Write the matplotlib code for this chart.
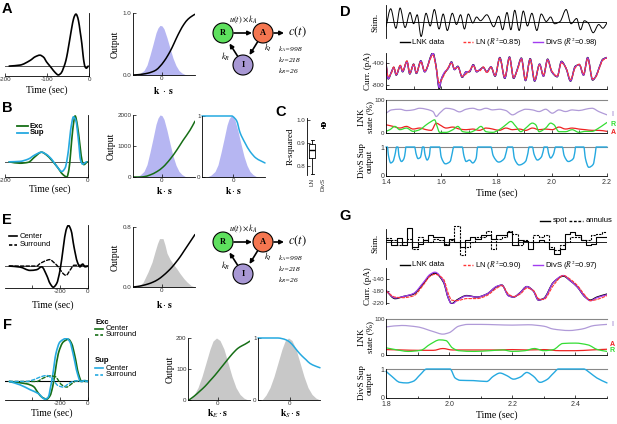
import numpy as np
import matplotlib
matplotlib.use("Agg")
import matplotlib.pyplot as plt
from matplotlib.patches import Circle, PathPatch
from matplotlib.path import Path

plt.rcParams['font.family'] = ['Liberation Sans', 'DejaVu Sans']
plt.rcParams['mathtext.fontset'] = 'stix'
plt.rcParams['axes.linewidth'] = 0.6
SERIF = ['Liberation Serif', 'DejaVu Serif']

# ---------------- data ----------------
# A: LN filter
filt_a_t = [-190, -164, -140, -128, -117, -108, -101, -95, -89, -81, -73, -66, -61, -57, -53,
            -49, -45, -41, -37, -34, -31, -28, -25, -21, -17, -14, -12, -9, -6, -2]
filt_a_v = [0, 0.02, 0.11, 0.18, 0.21, 0.17, 0.08, 0.02, -0.04, -0.12, -0.17, -0.13, -0.04, 0.05, 0.18,
            0.36, 0.55, 0.74, 0.90, 0.97, 1.0, 0.96, 0.87, 0.66, 0.43, 0.2, 0.08, -0.02, -0.04, 0]
# A/B: static nonlinearity + stimulus distribution (normalised)
nl_x = [-2.9, -2.4, -1.9, -1.4, -1.0, -0.6, -0.2, 0.2, 0.6, 1.0, 1.4, 1.8, 2.2, 2.6, 3.0, 3.3]
nl_a = [0.0, 0.005, 0.015, 0.03, 0.05, 0.08, 0.14, 0.22, 0.32, 0.44, 0.58, 0.71, 0.82, 0.9, 0.95, 0.98]
hist_x = [-2.6, -2.2, -1.8, -1.5, -1.2, -0.9, -0.6, -0.4, -0.2, 0.0, 0.2, 0.5, 0.8, 1.1, 1.4, 1.7, 2.0, 2.3, 2.6]
hist_v = [0, 0.03, 0.09, 0.2, 0.4, 0.62, 0.85, 0.95, 1.0, 0.99, 0.93, 0.75, 0.54, 0.34, 0.19, 0.09, 0.04, 0.01, 0]

# B: Exc / Sup filters
b_exc_t = [-190, -164, -144, -128, -112, -100, -88, -75, -60, -51, -46, -42, -37, -31, -26, -19, -14, -10, -2]
b_exc_v = [0, -0.03, -0.01, 0.11, 0.21, 0.15, 0.04, -0.10, -0.28, -0.33, -0.17, 0.18, 0.68, 1.0, 0.82, 0.33, 0.01, -0.06, 0]
b_sup_t = [-190, -164, -144, -128, -112, -100, -88, -75, -63, -55, -47, -42, -35, -29, -23, -18, -13, -4]
b_sup_v = [0, 0.01, 0.06, 0.15, 0.21, 0.16, 0.06, -0.10, -0.21, -0.13, 0.26, 0.68, 0.98, 0.89, 0.47, 0.04, -0.05, 0]
b1_x = [-2.9, -2.2, -1.8, -1.2, -0.5, 0.1, 0.8, 1.5, 2.1, 2.8, 3.3]
b1_v = [0, 0, 10, 65, 175, 320, 570, 880, 1180, 1510, 1800]
b2_x = [-3.1, -0.1, 0.0, 0.37, 0.7, 1.2, 1.7, 2.3, 3.2]
b2_v = [1.0, 1.0, 0.99, 0.92, 0.73, 0.56, 0.42, 0.31, 0.23]

# C: R-squared box summary
c_labels = ['LN', 'DivS']
c_med = [0.870, 0.981]
c_q1 = [0.835, 0.976]
c_q3 = [0.895, 0.988]
c_lo = [0.765, 0.968]
c_hi = [0.915, 0.994]

# D: white-noise example
d_stim = [(1.400, -0.35), (1.417, 0.85), (1.436, -0.45), (1.451, 0.9), (1.469, -0.4), (1.487, 0.6),
          (1.500, -0.15), (1.513, 0.45), (1.527, -1.0), (1.545, 0.55), (1.560, -0.3), (1.575, 0.8),
          (1.592, -0.5), (1.607, 0.5), (1.622, -0.6), (1.640, 0.55), (1.655, -0.2), (1.670, 0.45),
          (1.684, -0.5), (1.698, 0.5), (1.714, -0.1), (1.728, 0.3), (1.742, 0.05), (1.765, 0.45),
          (1.790, -0.35), (1.808, 0.35), (1.822, -0.55), (1.838, 0.6), (1.852, -0.55), (1.866, 0.75),
          (1.882, -0.6), (1.897, 0.7), (1.912, -0.3), (1.928, 0.55), (1.946, -0.6), (1.962, 0.5),
          (1.980, 0.0), (1.996, 0.3), (2.010, -0.15), (2.030, 0.0), (2.052, 0.8), (2.070, -0.15),
          (2.090, 0.2), (2.104, -0.55), (2.118, 0.05), (2.132, -0.1), (2.150, -0.75), (2.170, -0.2),
          (2.185, -0.45), (2.200, -0.1)]
d_curr_t = [1.400, 1.408, 1.420, 1.428, 1.437, 1.452, 1.460, 1.476, 1.486, 1.500, 1.510, 1.526, 1.540,
            1.570, 1.580, 1.593, 1.600, 1.612, 1.625, 1.637, 1.648, 1.660, 1.676, 1.690, 1.702, 1.716,
            1.728, 1.740, 1.752, 1.765, 1.780, 1.795, 1.812, 1.830, 1.847, 1.862, 1.875, 1.890, 1.905,
            1.922, 1.938, 1.956, 1.970, 1.985, 2.000, 2.020, 2.035, 2.052, 2.068, 2.085, 2.100, 2.115,
            2.130, 2.148, 2.160, 2.172, 2.185, 2.200]
d_lnk = [-400, -690, -560, -480, -620, -450, -560, -370, -600, -420, -590, -360, -560,
         -215, -420, -870, -700, -580, -500, -380, -520, -460, -660, -560, -560, -430,
         -560, -520, -480, -560, -470, -640, -300, -680, -290, -680, -520, -310, -720,
         -320, -730, -420, -640, -330, -560, -650, -370, -500, -730, -460, -430, -620,
         -300, -710, -640, -480, -330, -300]
d_ln = [-420, -650, -580, -470, -600, -440, -540, -360, -580, -430, -570, -380, -540,
        -260, -440, -760, -720, -600, -480, -400, -500, -480, -640, -600, -540, -450,
        -540, -540, -470, -580, -480, -620, -320, -650, -310, -660, -540, -330, -700,
        -340, -700, -440, -620, -350, -540, -640, -400, -490, -700, -490, -420, -600,
        -330, -690, -650, -500, -350, -310]
d_divs = [-405, -685, -560, -485, -615, -450, -555, -375, -595, -425, -585, -365, -560,
          -225, -430, -850, -700, -565, -500, -385, -520, -465, -655, -560, -555, -435,
          -560, -520, -485, -560, -470, -635, -305, -675, -295, -675, -520, -315, -715,
          -325, -725, -420, -640, -335, -560, -645, -375, -500, -725, -465, -430, -620,
          -305, -705, -640, -480, -335, -300]
d_state_i = [(1.400, 60), (1.420, 70), (1.450, 72), (1.474, 68), (1.498, 70), (1.522, 75), (1.546, 72),
             (1.570, 65), (1.582, 50), (1.594, 60), (1.618, 75), (1.642, 72), (1.666, 64), (1.690, 72),
             (1.714, 75), (1.738, 70), (1.762, 75), (1.786, 70), (1.810, 72), (1.834, 68), (1.858, 55),
             (1.882, 65), (1.906, 72), (1.930, 70), (1.954, 65), (1.978, 72), (2.002, 60), (2.026, 70),
             (2.050, 65), (2.074, 70), (2.098, 68), (2.122, 72), (2.146, 75), (2.170, 65), (2.200, 55)]
d_state_r = [(1.400, 5), (1.414, 10), (1.432, 20), (1.450, 10), (1.474, 15), (1.498, 5), (1.522, 10),
             (1.546, 25), (1.564, 35), (1.576, 40), (1.585, 20), (1.594, 2), (1.618, 2), (1.642, 10),
             (1.660, 20), (1.678, 4), (1.702, 2), (1.726, 10), (1.744, 20), (1.762, 4), (1.786, 2),
             (1.810, 10), (1.834, 25), (1.852, 35), (1.870, 20), (1.888, 4), (1.906, 15), (1.930, 30),
             (1.942, 25), (1.954, 4), (1.978, 15), (1.996, 30), (2.008, 25), (2.026, 4), (2.050, 4),
             (2.074, 10), (2.098, 2), (2.122, 5), (2.146, 5), (2.170, 15), (2.188, 25), (2.200, 32)]
d_state_a = [(1.400, 25), (1.426, 20), (1.450, 15), (1.474, 20), (1.498, 12), (1.522, 15), (1.546, 10),
             (1.564, 8), (1.582, 30), (1.594, 25), (1.618, 15), (1.642, 18), (1.666, 12), (1.690, 10),
             (1.714, 12), (1.738, 8), (1.762, 15), (1.786, 12), (1.810, 8), (1.834, 15), (1.858, 10),
             (1.882, 12), (1.906, 8), (1.930, 15), (1.954, 10), (1.978, 12), (2.002, 10), (2.026, 18),
             (2.050, 12), (2.074, 15), (2.098, 12), (2.122, 10), (2.146, 8), (2.170, 8), (2.200, 5)]
d_sup = [(1.400, 1.0), (1.405, 1.0), (1.409, 0.7), (1.417, 0.45), (1.425, 0.5), (1.434, 0.8), (1.438, 1.0),
         (1.443, 1.0), (1.447, 0.7), (1.456, 0.5), (1.465, 0.6), (1.470, 0.85), (1.472, 1.0),
         (1.504, 1.0), (1.508, 0.8), (1.516, 0.6), (1.525, 0.65), (1.530, 0.9), (1.532, 1.0),
         (1.537, 1.0), (1.541, 0.75), (1.549, 0.55), (1.557, 0.7), (1.561, 1.0),
         (1.594, 1.0), (1.600, 0.65), (1.615, 0.42), (1.632, 0.5), (1.640, 0.8), (1.645, 1.0),
         (1.676, 1.0), (1.682, 0.7), (1.690, 0.5), (1.702, 0.55), (1.714, 0.45), (1.726, 0.6), (1.732, 1.0),
         (1.780, 1.0), (1.788, 0.7), (1.808, 0.48), (1.828, 0.6), (1.836, 0.85), (1.840, 1.0),
         (1.858, 1.0), (1.865, 0.6), (1.882, 0.38), (1.905, 0.5), (1.914, 0.8), (1.918, 1.0),
         (1.930, 1.0), (1.936, 0.75), (1.948, 0.55), (1.962, 0.65), (1.970, 0.9), (1.972, 1.0),
         (1.984, 1.0), (1.988, 0.8), (1.996, 0.62), (2.006, 0.75), (2.014, 1.0),
         (2.038, 1.0), (2.045, 0.7), (2.060, 0.5), (2.078, 0.6), (2.084, 0.85), (2.086, 1.0),
         (2.116, 1.0), (2.122, 0.6), (2.134, 0.3), (2.150, 0.4), (2.158, 0.8), (2.161, 1.0), (2.200, 1.0)]

# E: center / surround filters
e_cen_t = [-562, -486, -414, -367, -331, -295, -271, -248, -224, -200, -176, -157, -140, -121, -100, -76, -57, -38, -21, 0]
e_cen_v = [0, -0.025, -0.107, -0.09, -0.02, -0.23, -0.43, -0.52, -0.43, -0.107, 0.47, 0.88, 1.0, 0.88, 0.47, 0.1, -0.02, 0.05, -0.02, 0]
e_sur_t = [-562, -367, -343, -295, -271, -248, -212, -176, -157, -128, -100, -57, -21, 0]
e_sur_v = [0, 0, 0.06, 0.14, 0.16, 0.1, -0.02, -0.19, -0.23, -0.1, 0.02, 0.02, 0.0, 0]
e_nl_x = [-2.9, -2.4, -1.9, -1.4, -0.9, -0.4, 0.1, 0.6, 1.0, 1.4, 1.8, 2.2, 2.6, 3.0, 3.3]
e_nl_v = [0.0, 0.008, 0.022, 0.04, 0.065, 0.1, 0.15, 0.21, 0.265, 0.33, 0.4, 0.48, 0.56, 0.64, 0.7]
e_hist_x = [-2.4, -1.9, -1.4, -1.0, -0.7, -0.45, -0.25, 0.1, 0.3, 0.5, 0.8, 1.1, 1.5, 1.8, 2.2, 2.5, 2.9, 3.3]
e_hist_v = [0.0, 0.06, 0.2, 0.33, 0.47, 0.58, 0.645, 0.645, 0.56, 0.45, 0.37, 0.31, 0.24, 0.18, 0.11, 0.067, 0.02, 0.0]

# F: Exc / Sup center-surround filters and nonlinearities
f_exc_c_t = [-562, -438, -390, -355, -331, -295, -271, -252, -236, -212, -176, -140, -117, -93, -69, -45, -21, 0]
f_exc_c_v = [0, -0.054, -0.115, -0.27, -0.36, -0.41, -0.33, -0.115, 0.19, 0.65, 0.92, 0.98, 0.88, 0.58, 0.19, 0, 0.02, 0]
f_sup_c_t = [-562, -486, -414, -355, -307, -283, -271, -252, -229, -200, -152, -129, -105, -76, -53, -29, 0]
f_sup_c_v = [0, -0.077, -0.19, -0.28, -0.41, -0.36, -0.19, 0.15, 0.65, 0.92, 1.0, 0.92, 0.62, 0.19, 0, 0.02, 0]
f_exc_s_t = [-562, -367, -319, -271, -236, -188, -152, -117, -81, -33, 0]
f_exc_s_v = [0, 0, 0.08, 0.13, 0.115, -0.077, -0.13, -0.054, 0.015, 0, 0]
f_sup_s_t = [-562, -440, -390, -331, -295, -260, -212, -176, -140, -93, -33, 0]
f_sup_s_v = [0, 0, 0.04, 0.115, 0.14, 0.077, -0.1, -0.13, -0.054, 0.015, 0, 0]
f_hist_x = [-2.8, -2.4, -2.0, -1.6, -1.2, -0.8, -0.5, -0.15, 0.2, 0.6, 1.0, 1.4, 1.8, 2.2, 2.6, 3.0]
f_hist_v = [0.0, 0.08, 0.2, 0.38, 0.6, 0.82, 0.95, 1.0, 0.96, 0.82, 0.6, 0.38, 0.2, 0.09, 0.03, 0.0]
f_exc_x = [-2.9, -2.4, -1.8, -1.3, -0.8, -0.3, 0.2, 0.7, 1.2, 1.7, 2.0, 2.4, 2.7, 3.2]
f_exc_v = [0, 12, 29, 44, 62, 80, 100, 120, 140, 158, 167, 175, 180, 190]
f_sup_x = [-3.2, -1.2, -0.8, -0.4, 0.0, 0.4, 0.8, 1.2, 1.6, 2.0, 2.5, 3.0]
f_sup_v = [1.0, 1.0, 0.99, 0.97, 0.93, 0.86, 0.78, 0.71, 0.65, 0.59, 0.55, 0.52]

# G: spot / annulus example (one value per 1/60 s frame)
g_frame = 1 / 60
g_spot = [0.12, -0.25, 0.3, -0.25, 1.05, -0.4, -0.12, 0.12, 0.55, 0.35, 0.35, -0.25, 0.25, 0.0,
          -0.4, 0.12, 0.35, 0.25, 0.5, 0.5, 0.25, 0.5, 0.5, 0.75, -0.25, 0.12, 0.1, -0.5, 0.0, 0.12,
          0.0, -0.5, -0.9, -0.5, 0.6, 0.75, 0.5, 0.12, -0.25, -0.12, 0.37, 0.37]
g_annulus = [0.3, 0.12, -0.25, 0.0, 0.25, -0.5, 0.37, 0.12, 0.0, 0.25, 0.12, -0.12, 0.12, 1.25,
             -1.0, -0.4, 0.0, 0.37, 0.37, 0.87, -0.5, 0.25, 0.37, 0.87, 0.62, -0.25, 0.12, 0.0, 0.5,
             0.37, 0.5, -0.4, -0.6, -0.25, 0.0, 0.37, 0.37, 0.12, 0.12, 0.5, 0.62, 0.75]
g_curr_t = [1.800, 1.829, 1.855, 1.887, 1.918, 1.940, 1.955, 1.982, 1.998, 2.008, 2.024, 2.056, 2.088,
            2.119, 2.151, 2.167, 2.188, 2.204, 2.225, 2.246, 2.267, 2.283, 2.299, 2.331, 2.362, 2.383,
            2.405, 2.431, 2.447, 2.468, 2.500]
g_lnk = [-178, -205, -198, -190, -155, -128, -120, -150, -205, -222, -210, -195, -200, -190, -165, -160,
         -195, -200, -185, -165, -180, -210, -205, -150, -130, -145, -165, -200, -210, -200, -190]
g_divs = [-178, -203, -198, -188, -152, -124, -117, -148, -205, -224, -212, -196, -200, -190, -164, -160,
          -196, -200, -185, -165, -180, -210, -206, -150, -128, -145, -165, -200, -212, -202, -192]
g_ln = [-180, -200, -202, -196, -160, -130, -124, -140, -190, -210, -212, -205, -205, -195, -170, -162,
        -190, -198, -190, -170, -178, -205, -208, -160, -128, -140, -160, -195, -212, -208, -195]
g_state_i = [(1.80, 78), (1.85, 82), (1.90, 78), (1.95, 65), (1.98, 58), (2.00, 62), (2.03, 80), (2.06, 85),
             (2.10, 85), (2.15, 84), (2.20, 83), (2.25, 84), (2.30, 80), (2.33, 72), (2.38, 68), (2.42, 72),
             (2.46, 82), (2.50, 85)]
g_state_r = [(1.80, 20), (1.83, 15), (1.87, 10), (1.91, 13), (1.94, 30), (1.97, 42), (1.99, 40), (2.01, 20),
             (2.03, 12), (2.08, 10), (2.13, 12), (2.17, 14), (2.20, 10), (2.24, 12), (2.27, 18), (2.30, 12),
             (2.33, 15), (2.36, 32), (2.40, 33), (2.44, 28), (2.47, 15), (2.50, 10)]
g_state_a = [(1.80, 15), (1.85, 14), (1.90, 13), (1.95, 13), (1.98, 18), (2.01, 14), (2.05, 14), (2.10, 14),
             (2.15, 14), (2.20, 15), (2.25, 14), (2.30, 15), (2.35, 12), (2.40, 12), (2.45, 14), (2.50, 16)]
g_sup = [(1.800, 0.92), (1.818, 0.75), (1.844, 0.54), (1.866, 0.52), (1.887, 0.58), (1.908, 0.8),
         (1.929, 1.0), (2.003, 1.0), (2.019, 0.69), (2.035, 0.61), (2.077, 0.6), (2.119, 0.57),
         (2.140, 0.75), (2.161, 0.86), (2.183, 0.77), (2.204, 0.65), (2.225, 0.72), (2.246, 0.88),
         (2.267, 0.75), (2.288, 0.54), (2.309, 0.63), (2.331, 0.86), (2.346, 1.0), (2.426, 1.0),
         (2.447, 0.86), (2.468, 0.69), (2.500, 0.52)]

GREEN_DK = '#166e16'
CYAN = '#25a9e0'
BLUE_FILL = '#b6b6f2'
GRAY_FILL = '#c8c8c8'
RED = '#ff3535'
PURPLE = '#a23cf0'
I_COL, R_COL, A_COL = '#b09ad8', '#33dd33', '#ee2222'

# ---------------- figure ----------------
W, H = 617, 424
fig = plt.figure(figsize=(W / 100, H / 100), dpi=100)


def px_axes(l, t, r, b):
    return fig.add_axes([l / W, 1 - b / H, (r - l) / W, (b - t) / H])


def ticks(ax, fs=4.5):
    ax.tick_params(direction='in', length=2, width=0.5, labelsize=fs, pad=1.0, labelcolor='#333')
    ax.tick_params(which='minor', direction='in', length=1.5, width=0.5)


def only(ax, *names):
    for k, s in ax.spines.items():
        s.set_visible(k in names)
        s.set_linewidth(0.6)


def pairs(p):
    t, v = zip(*p)
    return list(t), list(v)


def curve(ax, x, y, color, lw=1.0, dashed=False, clip=True, z=2):
    # smooth monotone (Fritsch-Carlson) bezier rendering through the read points
    x = np.asarray(x, float)
    y = np.asarray(y, float)
    h = np.diff(x)
    d = np.diff(y) / h
    m = np.zeros(len(x))
    m[0], m[-1] = d[0], d[-1]
    for k in range(1, len(x) - 1):
        if d[k - 1] * d[k] > 0:
            w1, w2 = 2 * h[k] + h[k - 1], h[k] + 2 * h[k - 1]
            m[k] = (w1 + w2) / (w1 / d[k - 1] + w2 / d[k])
    verts, codes = [(x[0], y[0])], [Path.MOVETO]
    for k in range(len(x) - 1):
        verts += [(x[k] + h[k] / 3, y[k] + m[k] * h[k] / 3),
                  (x[k + 1] - h[k] / 3, y[k + 1] - m[k + 1] * h[k] / 3),
                  (x[k + 1], y[k + 1])]
        codes += [Path.CURVE4] * 3
    ls = (0, (2.5, 1.5)) if dashed else '-'
    ax.add_patch(PathPatch(Path(verts, codes), fill=False, ec=color, lw=lw, ls=ls,
                           clip_on=clip, zorder=z, capstyle='round', joinstyle='round'))


ov = fig.add_axes([0, 0, 1, 1], zorder=10)
ov.set_xlim(0, W)
ov.set_ylim(H, 0)
ov.axis('off')
ov.patch.set_alpha(0)


def txt(x, y, s, fs=7, serif=True, **kw):
    kw.setdefault('ha', 'center')
    kw.setdefault('va', 'center')
    ov.text(x, y, s, fontsize=fs, family=SERIF if serif else None, **kw)


def seg(x0, x1, y, color, ls='-', lw=1.0):
    ov.plot([x0, x1], [y, y], color=color, ls=ls, lw=lw, dashes=(2, 1.2) if ls == '--' else (None, None))


def filter_axes(box, xlim, ylim, xt, xtl):
    ax = px_axes(*box)
    only(ax, 'right', 'bottom')
    ax.set_xlim(*xlim)
    ax.set_ylim(*ylim)
    ax.axhline(0, color='#555', lw=0.7, zorder=1)
    ax.set_xticks(xt)
    ax.set_xticklabels(xtl)
    ax.set_yticks([])
    ticks(ax)
    return ax


def nl_axes(box, xlim, ylim, yt, ytl):
    ax = px_axes(*box)
    only(ax, 'left', 'bottom')
    ax.set_xlim(*xlim)
    ax.set_ylim(*ylim)
    ax.set_xticks([0])
    ax.set_xticklabels(['0'])
    ax.set_yticks(yt)
    ax.set_yticklabels(ytl)
    ticks(ax)
    return ax


def scaled(v, k):
    return [k * x for x in v]


# --- A ---
ax = filter_axes((5, 13, 89, 76), (-200, 0), (-0.19, 1.02), [-200, -100, 0], ['-200', '-100', '0'])
curve(ax, filt_a_t, filt_a_v, 'k', 1.2)
ax = nl_axes((133, 13, 195, 75), (-2.9, 3.3), (0, 1.0), [0, 1], ['0.0', '1.0'])
ax.fill_between(hist_x, 0, scaled(hist_v, 0.8), color=BLUE_FILL, lw=0)
curve(ax, nl_x, nl_a, 'k', 1.1)

# --- B ---
ax = filter_axes((5, 115, 88, 177), (-200, 0), (-0.33, 1.02), [-200, 0], ['-200', '0'])
curve(ax, b_exc_t, b_exc_v, GREEN_DK, 1.2)
curve(ax, b_sup_t, b_sup_v, CYAN, 1.2)
ax = nl_axes((133, 115, 195, 177), (-2.9, 3.3), (0, 2000), [0, 1000, 2000], ['0', '1000', '2000'])
ax.fill_between(hist_x, 0, scaled(hist_v, 2000), color=BLUE_FILL, lw=0)
curve(ax, b1_x, b1_v, GREEN_DK, 1.1)
ax = nl_axes((202, 116, 265, 177), (-3.1, 3.2), (0, 1.0), [0, 1], ['0', '1'])
ax.fill_between(hist_x, 0, hist_v, color=BLUE_FILL, lw=0)
curve(ax, b2_x, b2_v, CYAN, 1.1, clip=False)

# --- C ---
ax = px_axes(307, 118, 328, 175)
only(ax, 'left')
stats = [dict(med=c_med[i], q1=c_q1[i], q3=c_q3[i], whislo=c_lo[i], whishi=c_hi[i], label=c_labels[i])
         for i in range(2)]
ax.bxp(stats, positions=[1, 2], widths=[0.55, 0.4], showfliers=False,
       boxprops=dict(lw=0.6), whiskerprops=dict(lw=0.6), capprops=dict(lw=0.6),
       medianprops=dict(color='k', lw=1.0))
ax.set_xlim(0.5, 2.5)
ax.set_ylim(0.76, 1.01)
ax.set_yticks([0.8, 0.9, 1.0])
ax.set_yticklabels(['0.8', '0.9', '1.0'])
ax.set_xticks([1, 2])
ax.set_xticklabels(c_labels, rotation=90)
ticks(ax)
ax.tick_params(axis='x', length=0, pad=2)

# --- E ---
ax = filter_axes((5, 225, 88, 288), (-593, 0), (-0.54, 1.01), [-400, -200, 0], ['', '-200', '0'])
curve(ax, e_cen_t, e_cen_v, 'k', 1.2)
curve(ax, e_sur_t, e_sur_v, 'k', 1.0, dashed=True)
ax = nl_axes((133, 227, 195, 287), (-2.9, 3.3), (0, 0.8), [0, 0.8], ['0.0', '0.8'])
ax.fill_between(e_hist_x, 0, e_hist_v, color=GRAY_FILL, lw=0)
curve(ax, e_nl_x, e_nl_v, 'k', 1.1)

# --- F ---
ax = filter_axes((5, 338, 88, 400), (-593, 0), (-0.43, 1.01), [-400, -200, 0], ['', '-200', '0'])
ax.axhline(0, color='k', lw=0.8, zorder=1)
curve(ax, f_exc_c_t, f_exc_c_v, GREEN_DK, 1.2)
curve(ax, f_sup_c_t, f_sup_c_v, CYAN, 1.2)
curve(ax, f_exc_s_t, f_exc_s_v, GREEN_DK, 1.0, dashed=True)
curve(ax, f_sup_s_t, f_sup_s_v, CYAN, 1.0, dashed=True)
ax = nl_axes((188, 338, 250, 400), (-3.0, 3.2), (0, 200), [0, 100, 200], ['0', '100', '200'])
ax.fill_between(f_hist_x, 0, scaled(f_hist_v, 200), color=GRAY_FILL, lw=0)
curve(ax, f_exc_x, f_exc_v, GREEN_DK, 1.1)
ax = nl_axes((258, 338, 320, 400), (-3.2, 3.0), (0, 1.0), [0, 1], ['0', '1'])
ax.fill_between(f_hist_x, 0, f_hist_v, color=GRAY_FILL, lw=0)
curve(ax, f_sup_x, f_sup_v, CYAN, 1.1, clip=False)


# --- D and G traces ---
def trace_block(boxes, xlim, major, minor, stim_lim, stim_spine, stim_draw, curr, curr_lim, curr_ticks,
                curr_bottom, states, sup):
    st, ct, lt, spt = boxes
    # stimulus
    ax = px_axes(386, st[0], 607, st[1])
    only(ax, 'left')
    ax.set_xlim(*xlim)
    ax.set_ylim(*stim_lim)
    ax.spines['left'].set_bounds(*stim_spine)
    ax.axhline(0, color='k', lw=0.6)
    stim_draw(ax)
    ax.set_xticks([])
    ax.set_yticks([])
    # current
    ax = px_axes(386, ct[0], 607, ct[1])
    if curr_bottom:
        only(ax, 'left', 'bottom')
    else:
        only(ax, 'left')
    ax.set_xlim(*xlim)
    ax.set_ylim(*curr_lim)
    t, data, divs, ln = curr
    curve(ax, t, data, 'k', 1.0)
    curve(ax, t, divs, PURPLE, 0.9)
    curve(ax, t, ln, RED, 0.8, dashed=True)
    ax.set_yticks(curr_ticks)
    ax.set_yticklabels([str(v) for v in curr_ticks])
    ax.set_xticks(major + minor if curr_bottom else [])
    ax.set_xticklabels([])
    ticks(ax)
    # LNK state
    ax = px_axes(386, lt[0], 607, lt[1])
    only(ax, 'left', 'bottom')
    ax.set_xlim(*xlim)
    ax.set_ylim(0, 100)
    ax.axhline(100, color='#888', lw=0.8, clip_on=False)
    for p, c in states:
        t, v = pairs(p)
        curve(ax, t, v, c, 0.9)
    ax.set_yticks([0, 100])
    ax.set_yticklabels(['0', '100'])
    ax.set_xticks(major + minor)
    ax.set_xticklabels([])
    ticks(ax)
    # DivS suppressive output
    ax = px_axes(386, spt[0], 607, spt[1])
    only(ax, 'left', 'bottom')
    ax.set_xlim(*xlim)
    ax.set_ylim(0, 1)
    ax.axhline(1, color='#888', lw=0.8, clip_on=False)
    t, v = pairs(sup)
    curve(ax, t, v, CYAN, 1.0, clip=False)
    ax.set_yticks([0, 1])
    ax.set_yticklabels(['0', '1'])
    ax.set_xticks(major)
    ax.set_xticklabels(['%.1f' % m for m in major])
    ax.set_xticks(minor, minor=True)
    ticks(ax, 5)
    ax.tick_params(axis='x', pad=2.2)


def d_stim_draw(ax):
    t, v = pairs(d_stim)
    curve(ax, t, v, 'k', 0.7)


g_edges = [1.8 + i * g_frame for i in range(len(g_spot) + 1)]


def g_stim_draw(ax):
    ax.plot(g_edges, g_spot + g_spot[-1:], color='k', lw=0.8, drawstyle='steps-post')
    ax.plot(g_edges, g_annulus + g_annulus[-1:], color='k', lw=0.8, ls='--', dashes=(2, 1),
            drawstyle='steps-post')


trace_block(((5, 38), (53, 89), (100, 133), (147, 176)), (1.4, 2.2),
            [1.4, 1.6, 1.8, 2.0, 2.2], [1.5, 1.7, 1.9, 2.1], (-1.1, 1.1), (-1.1, 1.1), d_stim_draw,
            (d_curr_t, d_lnk, d_divs, d_ln), (-873, -218), [-800, -400], True,
            [(d_state_i, I_COL), (d_state_a, A_COL), (d_state_r, R_COL)], d_sup)
trace_block(((225, 259), (268, 304), (319, 355), (369, 398)), (1.8, 2.5),
            [1.8, 2.0, 2.2, 2.4], [1.9, 2.1, 2.3, 2.5], (-1.3, 1.3), (-1.3, 1.0), g_stim_draw,
            (g_curr_t, g_lnk, g_divs, g_ln), (-223, -103), [-220, -180, -140], False,
            [(g_state_i, I_COL), (g_state_a, A_COL), (g_state_r, R_COL)], g_sup)

# ---------------- annotations ----------------
for lab, x, y in [('A', 7, 9), ('B', 7, 108), ('C', 281, 112), ('D', 345, 12),
                  ('E', 7, 220), ('F', 7, 325), ('G', 345, 216)]:
    txt(x, y, lab, fs=10.5, serif=False, fontweight='bold')

for x, y in [(47, 90), (50, 189), (53, 305), (52, 413), (497, 193), (497, 415)]:
    txt(x, y, 'Time (sec)')
for x, y in [(115, 44), (111, 146), (115, 257), (170, 369)]:
    txt(x, y, 'Output', rotation=90)
txt(164, 90, r'$\mathbf{k}\ \cdot\ \mathbf{s}$', fs=7)
for x, y in [(164, 190), (233, 190), (164, 305)]:
    txt(x, y, r'$\mathbf{k}\cdot\mathbf{s}$', fs=7)
txt(218, 414, r'$\mathbf{k}_{E}\cdot\mathbf{s}$', fs=7)
txt(290, 414, r'$\mathbf{k}_{S}\cdot\mathbf{s}$', fs=7)
txt(291, 146, 'R-squared', fs=6.5, rotation=90)

txt(375, 22, 'Stim.', fs=6.5, rotation=90)
txt(375, 243, 'Stim.', fs=6.5, rotation=90)
txt(368, 71, 'Curr. (pA)', fs=6.5, rotation=90)
txt(368, 286, 'Curr. (pA)', fs=6.5, rotation=90)
for y in (117, 337):
    txt(366, y, 'LNK\nstate (%)', fs=6.5, rotation=90, linespacing=0.95)
for y in (161, 383):
    txt(366, y, 'DivS Sup\noutput', fs=6.5, rotation=90, linespacing=0.95)

# state labels
for s, c, x, y in [('I', I_COL, 613, 115), ('R', R_COL, 613, 124), ('A', A_COL, 613, 133),
                   ('I', I_COL, 613, 325), ('A', A_COL, 612, 344), ('R', R_COL, 612, 351)]:
    txt(x, y, s, fs=5, serif=False, color=c, fontweight='bold')

# legends D / G
for y, r_ln, r_dv in [(42, '0.85', '0.98'), (265, '0.90', '0.97')]:
    seg(400, 410, y, 'k')
    txt(412, y, 'LNK data', fs=5.5, serif=False, ha='left')
    seg(463, 473, y, RED, '--')
    txt(475, y, r'LN ($R^2$=' + r_ln + ')', fs=5.5, serif=False, ha='left')
    seg(533, 543, y, PURPLE)
    txt(545, y, r'DivS ($R^2$=' + r_dv + ')', fs=5.5, serif=False, ha='left')
seg(540, 550, 221, 'k')
txt(553, 221, 'spot', fs=5.5, serif=False, ha='left')
seg(569, 583, 221, 'k', '--')
txt(586, 221, 'annulus', fs=5.5, serif=False, ha='left')

# legends B / E / F
seg(17, 28, 126, GREEN_DK, lw=1.3)
txt(30, 126, 'Exc', fs=5.5, serif=False, ha='left', fontweight='bold')
seg(17, 28, 133, CYAN, lw=1.3)
txt(30, 133, 'Sup', fs=5.5, serif=False, ha='left', fontweight='bold')
seg(9, 17, 236, 'k', lw=1.2)
txt(20, 236, 'Center', fs=5.5, serif=False, ha='left')
seg(9, 17, 245, 'k', '--', lw=1.2)
txt(20, 245, 'Surround', fs=5.5, serif=False, ha='left')
txt(95, 322, 'Exc', fs=5.5, serif=False, ha='left', fontweight='bold')
seg(95, 103, 329, GREEN_DK, lw=1.2)
txt(106, 329, 'Center', fs=5.5, serif=False, ha='left')
seg(95, 103, 335, GREEN_DK, '--', lw=1.2)
txt(106, 335, 'Surround', fs=5.5, serif=False, ha='left')
txt(95, 361, 'Sup', fs=5.5, serif=False, ha='left', fontweight='bold')
seg(95, 103, 368, CYAN, lw=1.2)
txt(106, 368, 'Center', fs=5.5, serif=False, ha='left')
seg(95, 103, 375, CYAN, '--', lw=1.2)
txt(106, 375, 'Surround', fs=5.5, serif=False, ha='left')


# LNK diagrams
def arrow(x0, y0, x1, y1):
    ov.annotate('', xy=(x1, y1), xytext=(x0, y0),
                arrowprops=dict(arrowstyle='-|>', color='k', lw=1.2, mutation_scale=6, shrinkA=0, shrinkB=0))


for oy in (0, 209):
    for cx, cy, col, lab in [(223, 33, '#5ee05e', 'R'), (263, 33, '#f47650', 'A'), (243, 65, '#a898d4', 'I')]:
        ov.add_patch(Circle((cx, cy + oy), 10, fc=col, ec='k', lw=0.8, zorder=3))
        txt(cx, cy + oy, lab, fs=6, fontweight='bold', zorder=4)
    arrow(234, 33 + oy, 252, 33 + oy)
    arrow(274, 33 + oy, 284, 33 + oy)
    arrow(257.5, 42 + oy, 249.5, 55 + oy)
    arrow(237.5, 56 + oy, 229.5, 43.5 + oy)
    txt(243, 20 + oy, r'$u(t)\times k_A$', fs=6)
    txt(297, 32 + oy, r'$c(t)$', fs=9)
    txt(268, 48 + oy, r'$k_I$', fs=6)
    txt(226, 57 + oy, r'$k_R$', fs=6)
    for i, s in enumerate([r'$k_A$=998', r'$k_I$=218', r'$k_R$=26']):
        txt(278, 49 + 11 * i + oy, s, fs=5.3, ha='left', style='italic')

fig.savefig('out.png', dpi=100)
